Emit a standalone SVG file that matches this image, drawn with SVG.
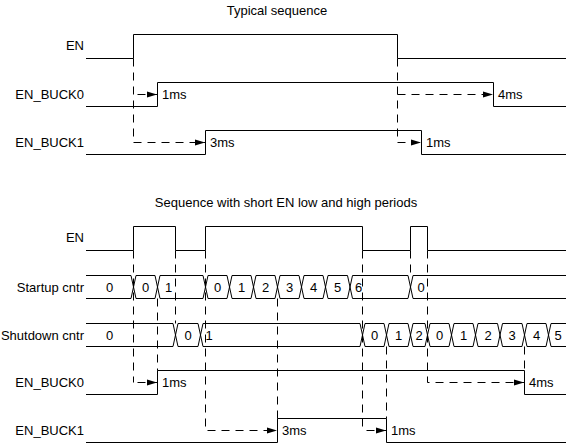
<svg xmlns="http://www.w3.org/2000/svg" width="567" height="444" viewBox="0 0 567 444">
<style>
text{font-family:"Liberation Sans",Arial,sans-serif;font-size:13px;fill:#000}
.lbl{text-anchor:end}
.v{text-anchor:middle}
.sig{fill:none;stroke:#000;stroke-width:1}
.bus{fill:none;stroke:#000;stroke-width:1}
.dash{fill:none;stroke:#000;stroke-width:1;stroke-dasharray:8 6}
.t{text-anchor:middle}
</style>
<defs>
<marker id="arr" markerWidth="10" markerHeight="7" refX="10" refY="3.5" orient="auto" markerUnits="userSpaceOnUse">
<path d="M0,0.5 L10,3.5 L0,6.5 z" fill="#000"/>
</marker>
</defs>
<rect width="567" height="444" fill="#fff"/>

<text class="t" x="277" y="15">Typical sequence</text>

<g id="top-en">
<text class="lbl" x="84" y="50">EN</text>
<path class="sig" d="M86 58.5 H133.5 V34.5 H397.5 V58.5 H566"/>
</g>
<g id="top-en-buck0">
<text class="lbl" x="84" y="99">EN_BUCK0</text>
<path class="sig" d="M86 106.5 H157.5 V82.5 H493.5 V106.5 H566"/>
</g>
<g id="top-en-buck1">
<text class="lbl" x="84" y="147">EN_BUCK1</text>
<path class="sig" d="M86 154.5 H205.5 V130.5 H421.5 V154.5 H566"/>
</g>

<g id="top-connectors">
<path class="dash" d="M133.5 58.5 V142.5 H205" marker-end="url(#arr)"/>
<path class="dash" d="M137.5 94.5 H157" marker-end="url(#arr)"/>
<path class="dash" d="M397.5 58.5 V142.5 H421" marker-end="url(#arr)"/>
<path class="dash" d="M397.5 94.5 H493" marker-end="url(#arr)"/>
<text x="162" y="99">1ms</text>
<text x="210" y="147">3ms</text>
<text x="498" y="99">4ms</text>
<text x="426" y="147">1ms</text>
</g>

<text class="t" x="286" y="207">Sequence with short EN low and high periods</text>

<g id="en">
<text class="lbl" x="84" y="242">EN</text>
<path class="sig" d="M86 250.5 H133.5 V226.5 H175.5 V250.5 H205.5 V226.5 H362.5 V250.5 H410.5 V226.5 H427.5 V250.5 H566"/>
</g>

<g id="startup-cntr">
<text class="lbl" x="84" y="291.5">Startup cntr</text>
<path class="bus" d="M86 275.5 H131 L133.5 287 L131 298.5 H86"/>
<path class="bus" d="M136 275.5 H155 L157.5 287 L155 298.5 H136 L133.5 287 Z"/>
<path class="bus" d="M160 275.5 H203 L205.5 287 L203 298.5 H160 L157.5 287 Z"/>
<path class="bus" d="M208 275.5 H227 L229.5 287 L227 298.5 H208 L205.5 287 Z"/>
<path class="bus" d="M232 275.5 H251 L253.5 287 L251 298.5 H232 L229.5 287 Z"/>
<path class="bus" d="M256 275.5 H275 L277.5 287 L275 298.5 H256 L253.5 287 Z"/>
<path class="bus" d="M280 275.5 H299 L301.5 287 L299 298.5 H280 L277.5 287 Z"/>
<path class="bus" d="M304 275.5 H323 L325.5 287 L323 298.5 H304 L301.5 287 Z"/>
<path class="bus" d="M328 275.5 H347.5 L350 287 L347.5 298.5 H328 L325.5 287 Z"/>
<path class="bus" d="M352.5 275.5 H408 L410.5 287 L408 298.5 H352.5 L350 287 Z"/>
<path class="bus" d="M566 275.5 H413 L410.5 287 L413 298.5 H566"/>
<text class="v" x="109.5" y="291.5">0</text>
<text class="v" x="145.5" y="291.5">0</text>
<text class="v" x="168.5" y="291.5">1</text>
<text class="v" x="217.5" y="291.5">0</text>
<text class="v" x="241.5" y="291.5">1</text>
<text class="v" x="265.5" y="291.5">2</text>
<text class="v" x="289.5" y="291.5">3</text>
<text class="v" x="313.5" y="291.5">4</text>
<text class="v" x="337.5" y="291.5">5</text>
<text class="v" x="358.5" y="291.5">6</text>
<text class="v" x="421" y="291.5">0</text>
</g>

<g id="shutdown-cntr">
<text class="lbl" x="84" y="339.5">Shutdown cntr</text>
<path class="bus" d="M86 323.5 H173 L175.5 335 L173 346.5 H86"/>
<path class="bus" d="M178 323.5 H198 L200.5 335 L198 346.5 H178 L175.5 335 Z"/>
<path class="bus" d="M203 323.5 H360 L362.5 335 L360 346.5 H203 L200.5 335 Z"/>
<path class="bus" d="M365 323.5 H384 L386.5 335 L384 346.5 H365 L362.5 335 Z"/>
<path class="bus" d="M389 323.5 H408 L410.5 335 L408 346.5 H389 L386.5 335 Z"/>
<path class="bus" d="M413 323.5 H425 L427.5 335 L425 346.5 H413 L410.5 335 Z"/>
<path class="bus" d="M430 323.5 H449 L451.5 335 L449 346.5 H430 L427.5 335 Z"/>
<path class="bus" d="M454 323.5 H473 L475.5 335 L473 346.5 H454 L451.5 335 Z"/>
<path class="bus" d="M478 323.5 H497.5 L500 335 L497.5 346.5 H478 L475.5 335 Z"/>
<path class="bus" d="M502.5 323.5 H522 L524.5 335 L522 346.5 H502.5 L500 335 Z"/>
<path class="bus" d="M527 323.5 H546 L548.5 335 L546 346.5 H527 L524.5 335 Z"/>
<path class="bus" d="M566 323.5 H551 L548.5 335 L551 346.5 H566"/>
<text class="v" x="109.5" y="339.5">0</text>
<text class="v" x="188" y="339.5">0</text>
<text class="v" x="209" y="339.5">1</text>
<text class="v" x="374.5" y="339.5">0</text>
<text class="v" x="398.5" y="339.5">1</text>
<text class="v" x="419" y="339.5">2</text>
<text class="v" x="439.5" y="339.5">0</text>
<text class="v" x="463.5" y="339.5">1</text>
<text class="v" x="488" y="339.5">2</text>
<text class="v" x="512" y="339.5">3</text>
<text class="v" x="536.5" y="339.5">4</text>
<text class="v" x="558" y="339.5">5</text>
</g>

<g id="en-buck0">
<text class="lbl" x="84" y="387">EN_BUCK0</text>
<path class="sig" d="M86 394.5 H157.5 V370.5 H524.5 V394.5 H566"/>
</g>
<g id="en-buck1">
<text class="lbl" x="84" y="435">EN_BUCK1</text>
<path class="sig" d="M86 442.5 H277.5 V418.5 H386.5 V442.5 H566"/>
</g>

<g id="connectors">
<path class="dash" d="M133.5 250.5 V382.5"/>
<path class="dash" d="M137.5 382.5 H157" marker-end="url(#arr)"/>
<path class="dash" d="M157.5 298.5 V370.5"/>
<path class="dash" d="M175.5 250.5 V323.5"/>
<path class="dash" d="M205.5 250.5 V430.5 H277" marker-end="url(#arr)"/>
<path class="dash" d="M277.5 298.5 V418.5"/>
<path class="dash" d="M362.5 250.5 V430.5"/>
<path class="dash" d="M366.5 430.5 H386" marker-end="url(#arr)"/>
<path class="dash" d="M386.5 346.5 V418.5"/>
<path class="dash" d="M410.5 250.5 V275.5"/>
<path class="dash" d="M427.5 250.5 V382.5 H524" marker-end="url(#arr)"/>
<path class="dash" d="M524.5 346.5 V370.5"/>
<text x="162" y="387">1ms</text>
<text x="282" y="435">3ms</text>
<text x="391" y="435">1ms</text>
<text x="529" y="387">4ms</text>
</g>
</svg>
